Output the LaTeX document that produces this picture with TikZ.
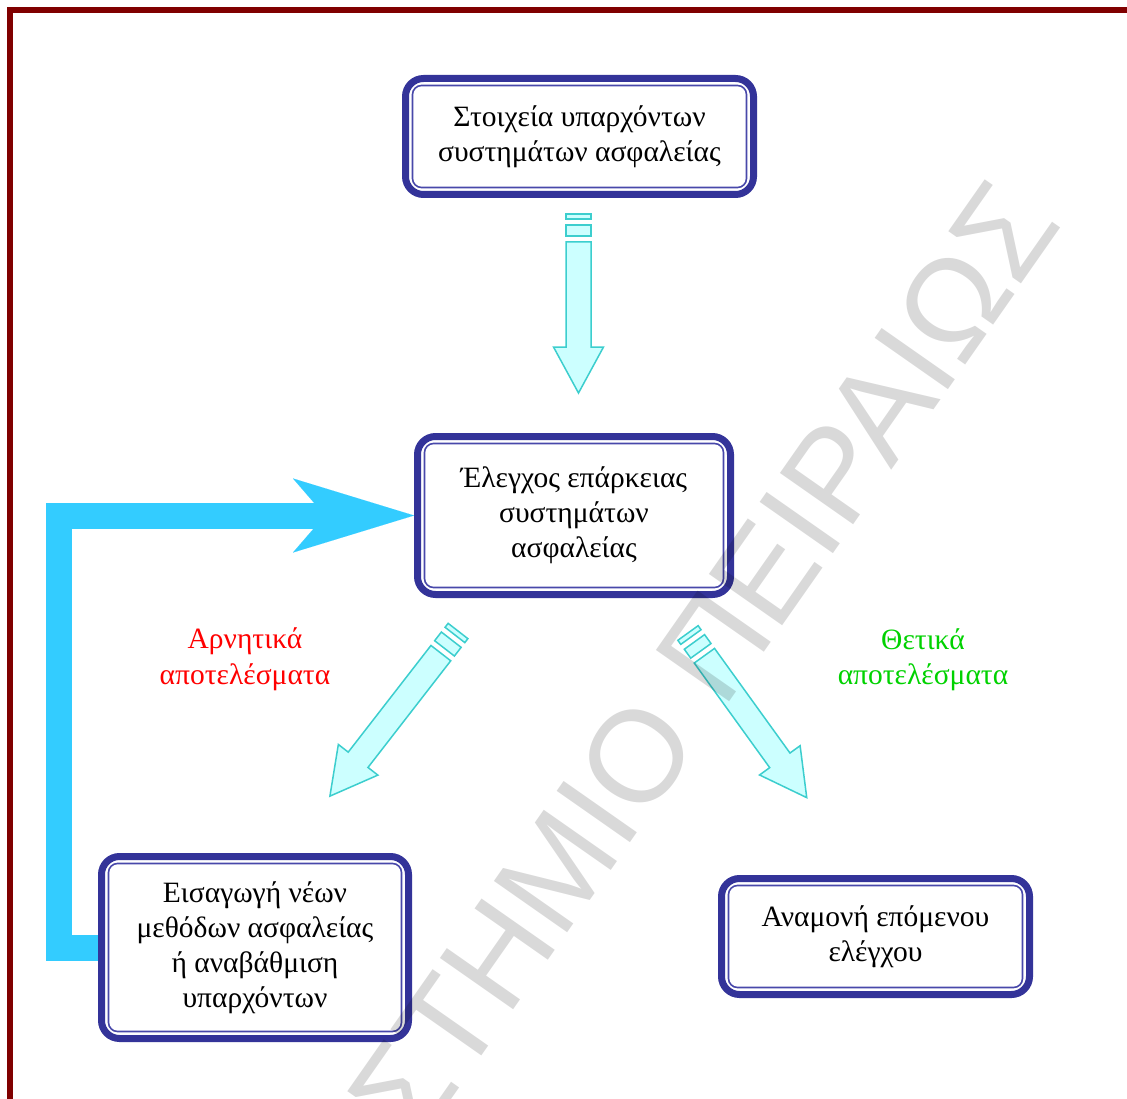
\documentclass[tikz,border=0pt]{standalone}
\usepackage{fontspec}
\setmainfont{Liberation Serif}
\newfontfamily\wmfont{Liberation Sans}
\usetikzlibrary{arrows.meta}
\definecolor{boxblue}{RGB}{51,51,153}
\definecolor{innerblue}{RGB}{72,72,170}
\definecolor{darkred}{RGB}{128,0,0}
\definecolor{arrfill}{RGB}{204,255,255}
\definecolor{arredge}{RGB}{60,206,206}
\definecolor{fbblue}{RGB}{51,204,255}
\definecolor{negred}{RGB}{255,0,0}
\definecolor{posgreen}{RGB}{0,210,0}
\newcommand\blockarrow[3]{%
  \begin{scope}[shift={#1}, rotate=#2]
    \draw[blockarr] (0,-12.5) rectangle (5,12.5);
    \draw[blockarr] (11,-12.5) rectangle (22,12.5);
    \draw[blockarr] (28,-12.5) -- ({#3-46},-12.5) -- ({#3-46},-25) -- (#3,0)
      -- ({#3-46},25) -- ({#3-46},12.5) -- (28,12.5) -- cycle;
  \end{scope}}
\begin{document}
\begin{tikzpicture}[x=1pt,y=-1pt,
  box/.style={draw=boxblue, line width=7pt, rounded corners=18pt, fill=white,
    align=center, font=\fontsize{29.5pt}{35pt}\selectfont, inner sep=0pt},
  innerline/.style={draw=innerblue, line width=1.6pt, rounded corners=9pt},
  lbl/.style={align=center, font=\fontsize{29.5pt}{35.5pt}\selectfont},
  blockarr/.style={fill=arrfill, draw=arredge, line width=1.5pt, line join=miter},
  feedback/.style={draw=fbblue, line width=26pt, line join=miter,
    -{Stealth[length=121pt,width=74pt,inset=32pt,line width=0.01pt]}}
]
\clip (0,0) rectangle (1127,1099);
\fill[white] (0,0) rectangle (1127,1099);
\draw[darkred, line width=6pt, line join=miter] (10,1110) -- (10,10) -- (1140,10);

\node[box, minimum width=348pt, minimum height=116pt] (b1) at (579.5,136.5)
  {Στοιχεία υπαρχόντων\\συστημάτων ασφαλείας};
\node[box, minimum width=313pt, minimum height=158pt] (b2) at (574,515.5)
  {Έλεγχος επάρκειας\\συστημάτων\\ασφαλείας};
\node[box, minimum width=307pt, minimum height=182pt] (b3) at (255,947.5)
  {Εισαγωγή νέων\\μεθόδων ασφαλείας\\ή αναβάθμιση\\υπαρχόντων};
\node[box, minimum width=308pt, minimum height=116pt] (b4) at (875.5,936.5)
  {Αναμονή επόμενου\\ελέγχου};
\foreach \n in {b1,b2,b3,b4}
  \draw[innerline] ([shift={(10.5,10.5)}]\n.north west) rectangle ([shift={(-10.5,-10.5)}]\n.south east);

\draw[feedback] (b3.west) -- ++(-39,0) |- (b2.west);

\node[lbl, text=negred] (neg) at (245,659) {Αρνητικά\\αποτελέσματα};
\node[lbl, text=posgreen] (pos) at (923,660) {Θετικά\\αποτελέσματα};

\blockarrow{(578.5,214)}{-90}{179}
\blockarrow{(458,631)}{232.2}{209}
\blockarrow{(688,633)}{-54.2}{203}

\node[text=black, text opacity=0.15, font=\wmfont\fontsize{130pt}{130pt}\selectfont,
  rotate=55, anchor=base east, inner sep=0pt] (wm) at (1064,224)
  {ΠΑΝΕΠΙΣΤΗΜΙΟ ΠΕΙΡΑΙΩΣ};
\end{tikzpicture}
\end{document}
